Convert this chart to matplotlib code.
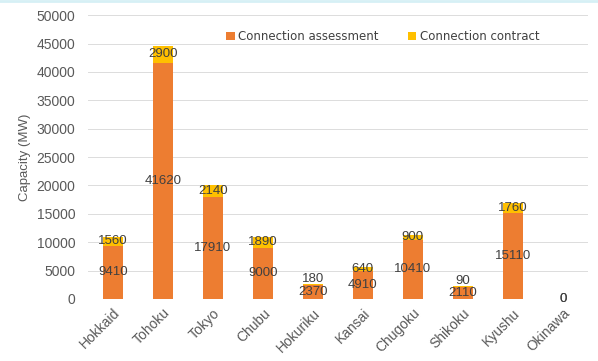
import numpy as np
import matplotlib.pyplot as plt
from matplotlib.lines import Line2D

plt.rcParams['font.family'] = ['Liberation Sans', 'DejaVu Sans']

regions = ["Hokkaid", "Tohoku", "Tokyo", "Chubu", "Hokuriku",
           "Kansai", "Chugoku", "Shikoku", "Kyushu", "Okinawa"]
assessment = [9410, 41620, 17910, 9000, 2370, 4910, 10410, 2110, 15110, 0]
contract = [1560, 2900, 2140, 1890, 180, 640, 900, 90, 1760, 0]

orange = "#ED7D31"
yellow = "#FFC000"

fig = plt.figure(figsize=(5.98, 3.61), dpi=100)
ax = fig.add_axes([0.147, 0.172, 0.836, 0.786])

x = np.arange(len(regions))
w = 0.41
ax.bar(x, assessment, w, color=orange, label="Connection assessment", zorder=2)
ax.bar(x, contract, w, bottom=assessment, color=yellow, label="Connection contract", zorder=2)

for i in range(len(regions)):
    a = assessment[i]
    c = contract[i]
    ax.text(x[i], a / 2, str(a), ha='center', va='center', fontsize=9.5, color="#404040", zorder=3)
    if c < 500 and c > 0:
        yc = a + c + 900
    else:
        yc = a + c / 2
    ax.text(x[i], yc, str(c), ha='center', va='center', fontsize=9.5, color="#404040", zorder=3)

ax.set_ylim(0, 50000)
ax.set_yticks(np.arange(0, 50001, 5000))
ax.set_xlim(-0.5, len(regions) - 0.5)
ax.set_xticks(x)
ax.set_xticklabels(regions, rotation=45, ha='right', rotation_mode='anchor')
ax.tick_params(axis='both', length=0, labelsize=10, colors="#595959")
ax.tick_params(axis='y', pad=9)
ax.tick_params(axis='x', pad=5)
ax.grid(axis='y', color="#dcdcdc", linewidth=0.7, zorder=0)
for s in ax.spines.values():
    s.set_visible(False)
ax.set_ylabel("Capacity (MW)", fontsize=9.5, color="#595959", labelpad=4)

leg = ax.legend(loc='upper center', bbox_to_anchor=(0.59, 0.985), ncol=2, frameon=False,
                handlelength=0.7, handleheight=0.7, handletextpad=0.3,
                columnspacing=2.5, labelcolor="#404040",
                prop={'family': ['DejaVu Sans'], 'size': 8.5})

fig.add_artist(Line2D([0, 1], [0.996, 0.996], color="#d6f0f5", linewidth=2, transform=fig.transFigure))

fig.savefig("out.png", dpi=100)
